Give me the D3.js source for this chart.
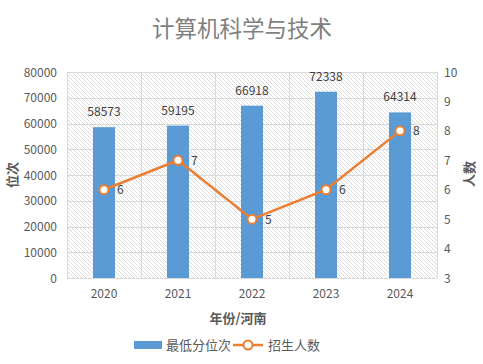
<!DOCTYPE html>
<html><head><meta charset="utf-8">
<script src="https://cdn.jsdelivr.net/npm/d3@7"></script>
<style>body{margin:0;background:#fff}</style>
</head><body>
<svg id="c" width="483" height="364"></svg>
<script>
const years = ["2020","2021","2022","2023","2024"];
const ranks = [58573,59195,66918,72338,64314];
const counts = [6,7,5,6,8];
const leftTicks = [0,10000,20000,30000,40000,50000,60000,70000,80000];
const rightTicks = [3,4,5,6,7,8,9,10];

const svg = d3.select("#c");
const W = 483, H = 364;
const m = {l:67, r:437, t:72, b:278};
const font = "'Microsoft YaHei','Noto Sans CJK SC',sans-serif";

svg.append("rect").attr("width",W).attr("height",H).attr("fill","#fff");

const defs = svg.append("defs");
const pat = defs.append("pattern").attr("id","hatch").attr("patternUnits","userSpaceOnUse")
  .attr("width",4).attr("height",4);
pat.append("rect").attr("width",4).attr("height",4).attr("fill","#fff");
pat.append("path").attr("d","M-1,-1 L5,5 M-1,3 L1,5 M3,-1 L5,1").attr("stroke","#d4d4d4").attr("stroke-width",0.8);

const x = d3.scaleBand().domain(years).range([m.l,m.r]);
const yL = d3.scaleLinear().domain([0,80000]).range([m.b,m.t]);
const yR = d3.scaleLinear().domain([3,10]).range([m.b,m.t]);

svg.append("rect").attr("x",m.l).attr("y",m.t).attr("width",m.r-m.l).attr("height",m.b-m.t).attr("fill","url(#hatch)");

// horizontal grid
svg.append("g").selectAll("line").data(leftTicks).join("line")
  .attr("x1",m.l).attr("x2",m.r).attr("y1",d=>Math.round(yL(d))+0.5).attr("y2",d=>Math.round(yL(d))+0.5)
  .attr("stroke","#d9d9d9").attr("stroke-width",1);
// vertical grid
const vb = years.map(d=>x(d)).concat([m.r]);
svg.append("g").selectAll("line").data(vb).join("line")
  .attr("x1",d=>Math.round(d)+0.5).attr("x2",d=>Math.round(d)+0.5).attr("y1",m.t).attr("y2",m.b)
  .attr("stroke","#d9d9d9").attr("stroke-width",1);

// bars
const bw = 22;
svg.append("g").selectAll("rect").data(ranks).join("rect")
  .attr("x",(d,i)=>x(years[i])+x.bandwidth()/2-bw/2)
  .attr("y",d=>yL(d)).attr("width",bw).attr("height",d=>yL(0)-yL(d))
  .attr("fill","#5B9BD5");
svg.append("g").selectAll("text").data(ranks).join("text")
  .attr("x",(d,i)=>x(years[i])+x.bandwidth()/2).attr("y",d=>yL(d)-11)
  .attr("text-anchor","middle").attr("font-family",font).attr("font-size",12).attr("fill","#404040")
  .text(d=>d);

// line
const cx = (d,i)=>x(years[i])+x.bandwidth()/2;
svg.append("path").datum(counts)
  .attr("d",d3.line().x(cx).y(d=>yR(d)))
  .attr("fill","none").attr("stroke","#ED7D31").attr("stroke-width",2.5);
svg.append("g").selectAll("circle").data(counts).join("circle")
  .attr("cx",cx).attr("cy",d=>yR(d)).attr("r",4.5)
  .attr("fill","#fff").attr("stroke","#ED7D31").attr("stroke-width",2);
svg.append("g").selectAll("text").data(counts).join("text")
  .attr("x",(d,i)=>cx(d,i)+13).attr("y",d=>yR(d)+4.5)
  .attr("font-family",font).attr("font-size",12).attr("fill","#404040").text(d=>d);

// left axis
svg.append("g").selectAll("text").data(leftTicks).join("text")
  .attr("x",57).attr("y",d=>yL(d)+4.5).attr("text-anchor","end")
  .attr("font-family",font).attr("font-size",12).attr("fill","#595959").text(d=>d);
// right axis
svg.append("g").selectAll("text").data(rightTicks).join("text")
  .attr("x",444).attr("y",d=>yR(d)+4.5).attr("text-anchor","start")
  .attr("font-family",font).attr("font-size",12).attr("fill","#595959").text(d=>d);
// x axis
svg.append("g").selectAll("text").data(years).join("text")
  .attr("x",d=>x(d)+x.bandwidth()/2).attr("y",m.b+20).attr("text-anchor","middle")
  .attr("font-family",font).attr("font-size",12).attr("fill","#595959").text(d=>d);

// titles
svg.append("text").attr("x",242).attr("y",37).attr("text-anchor","middle")
  .attr("font-family","'SimSun','Noto Sans CJK SC',serif").attr("font-size",22.5).attr("fill","#7f7f7f")
  .text("计算机科学与技术");
svg.append("text").attr("x",238).attr("y",323).attr("text-anchor","middle")
  .attr("font-family",font).attr("font-size",13).attr("font-weight","bold").attr("fill","#595959")
  .text("年份/河南");
svg.append("text").attr("transform","translate(17,175) rotate(-90)").attr("text-anchor","middle")
  .attr("font-family",font).attr("font-size",13).attr("font-weight","bold").attr("fill","#595959")
  .text("位次");
svg.append("text").attr("transform","translate(474,174) rotate(-90)").attr("text-anchor","middle")
  .attr("font-family",font).attr("font-size",13).attr("font-weight","bold").attr("fill","#595959")
  .text("人数");

// legend
const lg = svg.append("g");
lg.append("rect").attr("x",134).attr("y",341).attr("width",28).attr("height",8).attr("fill","#5B9BD5");
lg.append("text").attr("x",166).attr("y",350).attr("font-family",font).attr("font-size",13).attr("fill","#595959").text("最低分位次");
lg.append("line").attr("x1",233).attr("x2",263).attr("y1",345).attr("y2",345).attr("stroke","#ED7D31").attr("stroke-width",2.5);
lg.append("circle").attr("cx",248).attr("cy",345).attr("r",4.5).attr("fill","#fff").attr("stroke","#ED7D31").attr("stroke-width",2);
lg.append("text").attr("x",268).attr("y",350).attr("font-family",font).attr("font-size",13).attr("fill","#595959").text("招生人数");
</script>
</body></html>
